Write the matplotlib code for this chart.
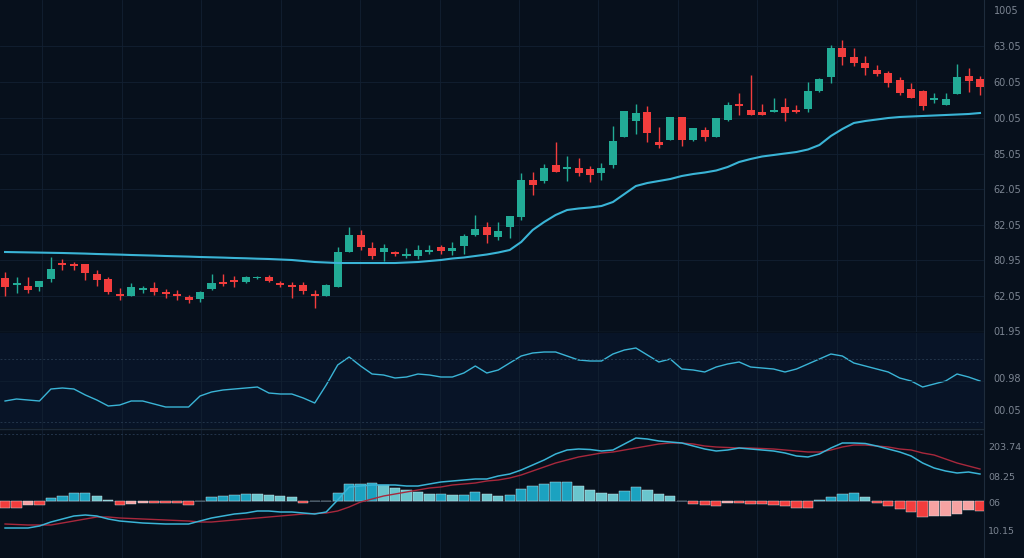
import matplotlib.pyplot as plt
import numpy as np

# candle data (price units)
opens = [54, 47, 46, 45, 53, 69, 68, 68, 58, 53, 38, 36, 42, 44, 40, 38, 35, 33, 43, 50,
         52, 50, 54, 55, 49, 47, 47, 38, 36, 45, 80, 97, 84, 80, 80, 76.5, 76, 80.5, 85, 81.5,
         86, 97, 105, 95, 105, 115, 152, 151, 167, 163, 164, 163, 159, 167, 195, 211, 220, 190, 192, 215,
         192, 202, 195, 212, 228, 222, 220, 220, 225, 222, 223, 241, 255, 284, 275, 269, 262, 259, 252, 243,
         241, 232, 227, 238, 256, 253]
closes = [45, 49, 42, 51, 63, 67, 66, 59, 52, 40, 36, 45, 44, 40, 38, 36, 32, 40, 49, 48,
          50.5, 55, 55, 51, 47, 45.5, 41, 36, 47, 80, 97, 85, 76, 84, 78, 78, 82, 82, 81, 84,
          96, 103, 97, 101, 116, 152, 147, 164, 160, 165, 159, 157, 164, 191, 221, 219, 199, 187, 215, 192,
          204, 195, 214, 227, 226, 217, 217, 222, 219, 220, 241, 253, 284, 275, 269, 264, 258, 249, 239, 234,
          226, 234, 233, 255, 251, 245]
highs = [60, 55, 55, 51, 75, 73, 70, 68, 62, 55, 44, 49, 46, 50, 43, 42, 37, 41, 58, 58,
         56, 56, 56, 57, 51, 50, 50, 42, 48, 85, 105, 102, 90, 88, 81, 84, 87, 87, 87, 90,
         98, 117, 110, 110, 116, 159, 160, 168, 190, 176, 174, 166, 169, 206, 221, 228, 226, 205, 215, 215,
         204, 205, 214, 230, 239, 257, 228, 234, 234, 227, 250, 254, 287, 292, 284, 276, 267, 261, 255, 249,
         242, 239, 239, 268, 264, 256]
lows = [36, 39, 39, 41, 50, 62, 62, 52, 46, 38, 32, 36, 39, 37, 34, 32, 29, 30, 42, 46,
        45, 49, 53, 50, 45, 34, 38, 24, 36, 45, 80, 82, 73, 71, 76, 74, 73, 78, 78, 77,
        78, 96, 89, 92, 94, 112, 137, 149, 160, 151, 156, 150, 152, 164, 195, 198, 190, 184, 192, 186,
        191, 191, 195, 211, 217, 217, 217, 220, 211, 219, 220, 240, 249, 267, 266, 257, 256, 245, 237, 234,
        222, 229, 227, 238, 240, 237]
ma = [80, 79.8, 79.6, 79.4, 79.2, 79, 78.7, 78.4, 78, 77.7, 77.4, 77, 76.7, 76.4, 76, 75.7, 75.4, 75, 74.7, 74.4,
      74, 73.7, 73.3, 73, 72.5, 72, 71, 70, 69.5, 69, 69, 69, 69, 69, 69, 69.5, 70, 71, 72, 73.5,
      74.5, 76, 77.5, 79.5, 82, 90, 102, 110, 117, 122, 123.5, 124.5, 126, 130, 138, 146, 149, 151, 153, 156,
      158, 159.5, 161.5, 165, 170, 173, 175.5, 177, 178.5, 180, 182.5, 187, 196, 203, 209, 211, 212.5, 214, 215, 215.5,
      216, 216.5, 217, 217.5, 218, 219]

# oscillator
osc = [27, 29, 28, 27, 39, 40, 39, 33, 28, 22, 23, 27, 27, 24, 21, 21, 21, 32, 36, 38,
       39, 40, 41, 35, 34, 34, 30, 25, 43, 63, 71, 62, 54, 53, 50, 51, 54, 53, 51, 51,
       55, 62, 55, 58, 65, 72, 75, 76, 76, 72, 68, 67, 67, 74, 78, 80, 73, 66, 69, 59,
       58, 56, 61, 64, 66, 61, 60, 59, 56, 59, 64, 69, 74, 72, 65, 62, 59, 56, 50, 47,
       41, 44, 47, 54, 51, 47]

# macd
hist = [-7.3, -7.3, -4.3, -4.3, 3.3, 5, 8, 8, 4.7, 1.3, -3.7, -3, -2.3, -2.3, -2.3, -2.3, -3.7, 0.3, 3.7, 5.3,
        6.3, 7.3, 6.7, 6.3, 5.3, 3.7, -2.3, -0.3, 0.3, 7.7, 17, 17, 18, 16, 13, 11, 8.7, 7, 7, 6.3,
        6.3, 8.7, 7, 5.3, 5.7, 12.3, 15.3, 17.3, 19, 19.3, 15, 10.7, 8, 6.7, 10, 13.7, 11.3, 7.3, 4.7, -0.3,
        -3.3, -4.3, -4.7, -1.7, -2.3, -2.7, -2.7, -3.7, -5.3, -6.7, -7, 1.3, 4.3, 7, 7.7, 4, -2, -5.3, -8.3, -11,
        -16, -15.3, -15, -12.7, -9.3, -10.3]
macd = [-27, -27, -27, -25, -21, -18, -15, -14, -15, -18, -20, -21, -22, -22.5, -23, -23, -23, -20, -17, -15,
        -13, -12, -10, -10, -11, -11, -12, -13, -11, 1, 14, 15, 16, 16, 16, 15, 15, 17, 19, 20,
        21, 22, 22, 25, 27, 31, 36, 41, 47, 51, 52, 51.5, 50, 51, 57, 63, 62, 60, 59, 58,
        55, 52, 50, 51, 53, 52, 51, 50, 48, 45, 44, 47, 53, 58, 58, 57.5, 55, 52, 49, 45,
        38, 33, 30, 28, 29, 27]
signal = [-23, -23.5, -24, -24, -24, -22, -20, -18, -16, -16, -17, -17.5, -18, -18.5, -19, -19.5, -20, -21, -21, -20,
          -19, -18, -17, -16, -15, -14, -13, -12.5, -12, -10, -6, -1, 2, 5, 7, 9, 11, 13, 14, 16,
          17, 18, 20, 21, 23, 26, 30, 34, 38, 41, 44, 46, 48, 49, 51, 53, 55, 57, 58, 58,
          57, 55, 54, 53.5, 53, 53, 52.5, 52, 51, 50, 49, 49, 51, 54, 56, 56, 55, 54, 52, 51,
          48, 46, 42, 38, 35, 32]

price_labels = ["1005", "63.05", "60.05", "00.05", "85.05", "62.05", "82.05", "80.95", "62.05", "01.95"]
osc_labels = ["00.98", "00.05"]
macd_labels = ["203.74", "08.25", "06", "10.15"]

BG = "#07101c"
GRID = "#122032"
UP = "#22ab96"
DOWN = "#f23d3d"
LINE = "#3ab4d6"
TXT = "#7c8592"

fig = plt.figure(figsize=(10.24, 5.58), dpi=100)
fig.patch.set_facecolor(BG)

W = 984 / 1024
ax1 = fig.add_axes([0, 226 / 558, W, 332 / 558])
ax2 = fig.add_axes([0, 130 / 558, W, 95 / 558])
ax3 = fig.add_axes([0, 0, W, 130 / 558])

x = np.arange(len(opens))
xgrid = np.arange(3.23, 86, 6.93)

for ax in (ax1, ax2, ax3):
    ax.set_facecolor(BG)
    ax.set_xlim(-0.44, 85.35)
    ax.set_xticks(xgrid)
    ax.tick_params(axis="x", length=0, labelbottom=False)
    ax.yaxis.tick_right()
    ax.tick_params(axis="y", length=0, pad=7, labelsize=7, labelcolor=TXT)
    ax.grid(True, axis="x", color=GRID, lw=0.6)
    for s in ax.spines.values():
        s.set_visible(False)
    ax.spines["right"].set_visible(True)
    ax.spines["right"].set_color("#1e2c3c")
ax2.set_facecolor("#081427")
ax3.tick_params(axis="y", pad=3, labelsize=6.8)

# --- candles
o = np.array(opens); c = np.array(closes)
up = c >= o
colors = np.where(up, UP, DOWN)
ax1.vlines(x, lows, highs, color=colors, lw=1.0, zorder=3)
body_bot = np.minimum(o, c)
body_h = np.maximum(np.abs(c - o), 1.2)
ax1.bar(x, body_h, bottom=body_bot, width=0.7, color=colors, zorder=4)
ax1.plot(x, ma, color=LINE, lw=1.5, zorder=5)
ax1.set_ylim(0, 332)
ticks1 = [322, 286, 250, 214, 178, 143, 107, 72, 36, 1]
ax1.set_yticks(ticks1)
ax1.set_yticklabels(price_labels)
for t in ticks1[1:-1]:
    ax1.axhline(t, color=GRID, lw=0.6, zorder=0)
ax1.axhline(0.5, color="#1c2a3a", lw=1.0)

# --- oscillator
ax2.plot(x, osc, color=LINE, lw=1.0)
ax2.set_ylim(0, 95)
ax2.set_yticks([50, 18])
ax2.set_yticklabels(osc_labels)
for t in (69, 6):
    ax2.axhline(t, color="#22344a", lw=0.7, ls=(0, (2, 2)))
ax2.axhline(47, color=GRID, lw=0.5)

# --- macd
h = np.array(hist)
prev = np.concatenate([[h[0]], h[:-1]])
hcol = []
for v, p in zip(h, prev):
    if v >= 0:
        hcol.append("#1ba2c0" if v >= p else "#6ac5cd")
    else:
        hcol.append("#f23d3d" if v <= p else "#f6a2a2")
ax3.bar(x, h, width=0.9, color=hcol, edgecolor="#d8eef2", linewidth=0.3, zorder=3)
ax3.axhline(0, color="#2a3a4c", lw=0.6, zorder=2)
ax3.plot(x, signal, color="#a8283c", lw=1.0, zorder=4)
ax3.plot(x, macd, color=LINE, lw=1.1, zorder=5)
ax3.set_ylim(-57, 73)
ax3.set_yticks([55, 25, -1, -30])
ax3.set_yticklabels(macd_labels)
ax3.axhline(72.5, color="#1c2a3a", lw=1.0)
ax3.axhline(67, color="#22344a", lw=0.7, ls=(0, (2, 2)))

fig.savefig("out.png", dpi=100, facecolor=BG)
